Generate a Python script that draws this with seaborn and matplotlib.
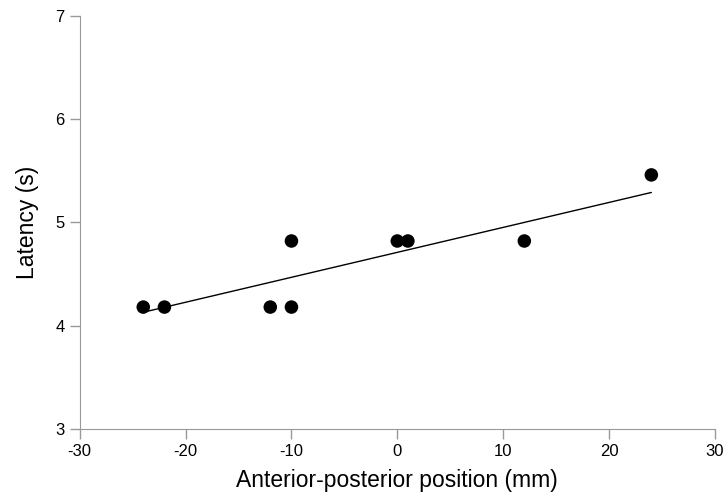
import matplotlib
matplotlib.use("Agg")
import matplotlib.pyplot as plt
import seaborn as sns
import pandas as pd

# data
ap_position = [-24, -22, -12, -10, -10, 0, 1, 12, 24]
latency = [4.18, 4.18, 4.18, 4.18, 4.82, 4.82, 4.82, 4.82, 5.46]
# fitted line as drawn in the figure
fit_x = [-24, 24]
fit_y = [4.13, 5.29]

sns.set_style("ticks")
plt.rcParams['font.family'] = ['Liberation Sans', 'DejaVu Sans']
plt.rcParams['axes.unicode_minus'] = False

df = pd.DataFrame({'pos': ap_position, 'lat': latency})
fit = pd.DataFrame({'pos': fit_x, 'lat': fit_y})

fig = plt.figure(figsize=(7.25, 4.97), dpi=100)
ax = fig.add_axes([0.110, 0.137, 0.876, 0.831])

sns.lineplot(data=fit, x='pos', y='lat', color='black', linewidth=1.0, ax=ax)
sns.scatterplot(data=df, x='pos', y='lat', color='black', s=95, edgecolor='none', ax=ax, zorder=3)

ax.set_xlim(-30, 30)
ax.set_ylim(3, 7)
ax.set_xticks([-30, -20, -10, 0, 10, 20, 30])
ax.set_yticks([3, 4, 5, 6, 7])
ax.set_xlabel('Anterior-posterior position (mm)', fontsize=16.5, labelpad=7, color='black')
ax.set_ylabel('Latency (s)', fontsize=16.5, labelpad=12, color='black')
ax.tick_params(axis='both', labelsize=12, color='#999999', labelcolor='black',
               length=7, width=1, direction='out', pad=4)
for side in ['left', 'bottom']:
    ax.spines[side].set_color('#999999')
sns.despine(ax=ax)

fig.savefig('out.png', dpi=100)
